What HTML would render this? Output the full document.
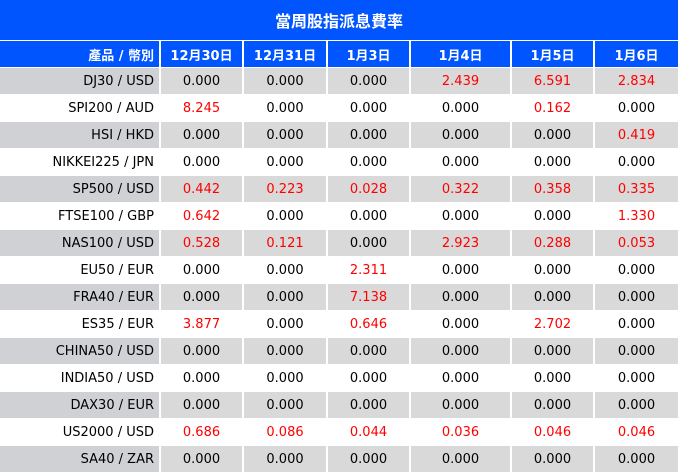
<!DOCTYPE html><html><head><meta charset="utf-8"><style>
body{margin:0;width:678px;height:472px;overflow:hidden;background:#fff;font-family:"DejaVu Sans","Noto Sans CJK TC",sans-serif;}
.t{height:40px;background:#0055ff;color:#fff;font-weight:bold;font-size:16px;line-height:40px;text-align:center;font-family:"Noto Sans CJK TC",sans-serif;}
table{border-collapse:collapse;table-layout:fixed;width:678px;font-size:13px;}
td,th{height:26px;padding:0;text-align:center;border-left:2px solid #fff;border-top:1px solid #fff;}
th{background:#0055ff;color:#fff;font-size:13px;}
td:first-child,th:first-child{text-align:right;padding-right:5px;border-left:none;}
tr:nth-child(even) td{background:#d9d9d9;}
tr:nth-child(even) td:first-child{background:#d0d1d5;}
.r{color:#f00;}
</style></head><body>
<div class="t">當周股指派息費率</div>
<table>
<colgroup><col style="width:160px"><col style="width:83px"><col style="width:84px"><col style="width:83px"><col style="width:101px"><col style="width:83px"><col style="width:84px"></colgroup>
<tr><th>產品 / 幣別</th><th>12月30日</th><th>12月31日</th><th>1月3日</th><th>1月4日</th><th>1月5日</th><th>1月6日</th></tr>
<tr><td>DJ30 / USD</td><td>0.000</td><td>0.000</td><td>0.000</td><td class="r">2.439</td><td class="r">6.591</td><td class="r">2.834</td></tr>
<tr><td>SPI200 / AUD</td><td class="r">8.245</td><td>0.000</td><td>0.000</td><td>0.000</td><td class="r">0.162</td><td>0.000</td></tr>
<tr><td>HSI / HKD</td><td>0.000</td><td>0.000</td><td>0.000</td><td>0.000</td><td>0.000</td><td class="r">0.419</td></tr>
<tr><td>NIKKEI225 / JPN</td><td>0.000</td><td>0.000</td><td>0.000</td><td>0.000</td><td>0.000</td><td>0.000</td></tr>
<tr><td>SP500 / USD</td><td class="r">0.442</td><td class="r">0.223</td><td class="r">0.028</td><td class="r">0.322</td><td class="r">0.358</td><td class="r">0.335</td></tr>
<tr><td>FTSE100 / GBP</td><td class="r">0.642</td><td>0.000</td><td>0.000</td><td>0.000</td><td>0.000</td><td class="r">1.330</td></tr>
<tr><td>NAS100 / USD</td><td class="r">0.528</td><td class="r">0.121</td><td>0.000</td><td class="r">2.923</td><td class="r">0.288</td><td class="r">0.053</td></tr>
<tr><td>EU50 / EUR</td><td>0.000</td><td>0.000</td><td class="r">2.311</td><td>0.000</td><td>0.000</td><td>0.000</td></tr>
<tr><td>FRA40 / EUR</td><td>0.000</td><td>0.000</td><td class="r">7.138</td><td>0.000</td><td>0.000</td><td>0.000</td></tr>
<tr><td>ES35 / EUR</td><td class="r">3.877</td><td>0.000</td><td class="r">0.646</td><td>0.000</td><td class="r">2.702</td><td>0.000</td></tr>
<tr><td>CHINA50 / USD</td><td>0.000</td><td>0.000</td><td>0.000</td><td>0.000</td><td>0.000</td><td>0.000</td></tr>
<tr><td>INDIA50 / USD</td><td>0.000</td><td>0.000</td><td>0.000</td><td>0.000</td><td>0.000</td><td>0.000</td></tr>
<tr><td>DAX30 / EUR</td><td>0.000</td><td>0.000</td><td>0.000</td><td>0.000</td><td>0.000</td><td>0.000</td></tr>
<tr><td>US2000 / USD</td><td class="r">0.686</td><td class="r">0.086</td><td class="r">0.044</td><td class="r">0.036</td><td class="r">0.046</td><td class="r">0.046</td></tr>
<tr><td>SA40 / ZAR</td><td>0.000</td><td>0.000</td><td>0.000</td><td>0.000</td><td>0.000</td><td>0.000</td></tr>
</table></body></html>
